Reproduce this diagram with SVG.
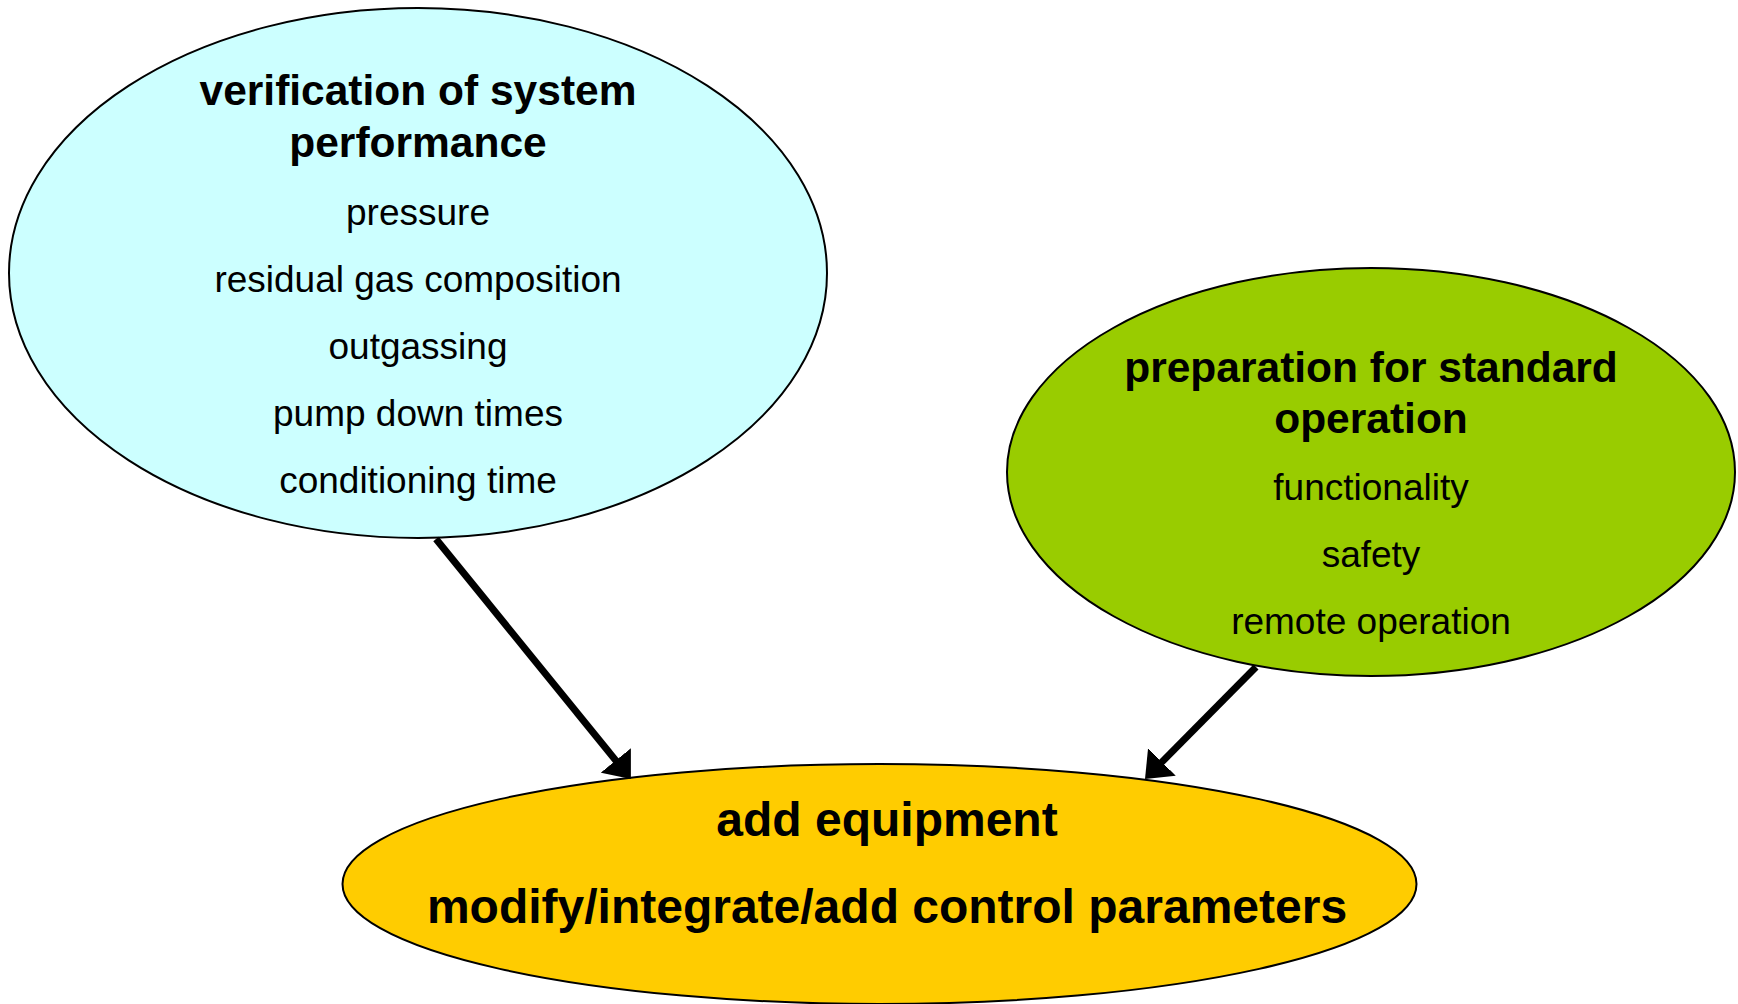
<svg xmlns="http://www.w3.org/2000/svg" width="1738" height="1004" viewBox="0 0 1738 1004">
<style>
.node ellipse{stroke:#000;stroke-width:2}
text{font-family:"Liberation Sans",Arial,sans-serif;fill:#000;text-anchor:middle}
.t{font-weight:bold;font-size:42.5px}
.b{font-weight:bold;font-size:48px}
.n{font-size:37px}
.conn line{stroke:#000;stroke-width:7}
</style>
<defs>
<marker id="ah" markerUnits="userSpaceOnUse" viewBox="0 0 24 39" refX="2" refY="19.5" markerWidth="24" markerHeight="39" orient="auto">
<path d="M0,0 L24,19.5 L0,39 z" fill="#000"/>
</marker>
</defs>
<rect width="1738" height="1004" fill="#fff"/>
<g id="verification" class="node">
<ellipse cx="418" cy="273" rx="409" ry="265" fill="#CCFFFF"/>
<text class="t" x="418" y="105">verification of system</text>
<text class="t" x="418" y="157">performance</text>
<text class="n" x="418" y="225">pressure</text>
<text class="n" x="418" y="292">residual gas composition</text>
<text class="n" x="418" y="359">outgassing</text>
<text class="n" x="418" y="426">pump down times</text>
<text class="n" x="418" y="493">conditioning time</text>
</g>
<g id="preparation" class="node">
<ellipse cx="1371" cy="472" rx="364" ry="204" fill="#99CC00"/>
<text class="t" x="1371" y="382">preparation for standard</text>
<text class="t" x="1371" y="433">operation</text>
<text class="n" x="1371" y="500">functionality</text>
<text class="n" x="1371" y="567">safety</text>
<text class="n" x="1371" y="634">remote operation</text>
</g>
<g id="equipment" class="node">
<ellipse cx="879.5" cy="884" rx="537" ry="120" fill="#FFCC00"/>
<text class="b" x="887" y="836">add equipment</text>
<text class="b" x="887" y="923">modify/integrate/add control parameters</text>
</g>
<g id="connectors" class="conn">
<line x1="436" y1="539" x2="617" y2="762" marker-end="url(#ah)"/>
<line x1="1256" y1="667" x2="1160.5" y2="763.4" marker-end="url(#ah)"/>
</g>
</svg>
